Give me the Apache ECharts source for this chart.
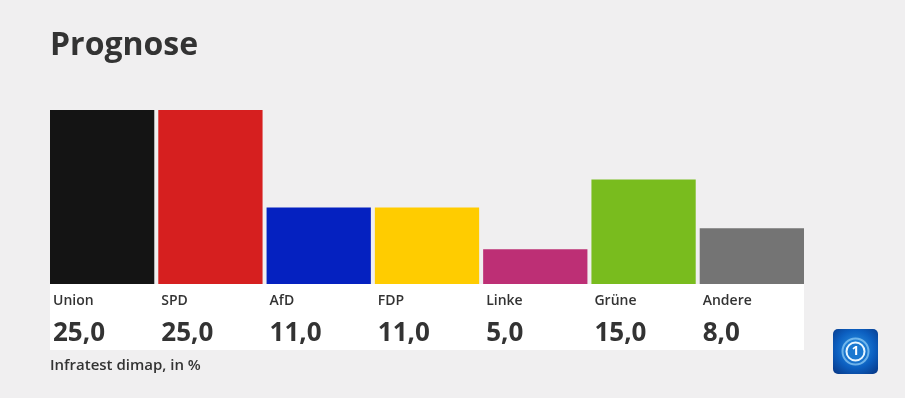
<!DOCTYPE html>
<html>
<head>
<meta charset="utf-8">
<script src="https://cdn.jsdelivr.net/npm/echarts@6/dist/echarts.min.js"></script>
<style>
  html, body { margin: 0; padding: 0; background: #f0eff0; }
  #chart { width: 905px; height: 398px; }
</style>
</head>
<body>
<div id="chart"></div>
<script>
const parties = ["Union", "SPD", "AfD", "FDP", "Linke", "Grüne", "Andere"];
const values = [25.0, 25.0, 11.0, 11.0, 5.0, 15.0, 8.0];
const colors = ["#141414", "#d61f1f", "#0521c0", "#ffcc00", "#bd2f75", "#79bc1e", "#747474"];

const font = "'Open Sans', 'Noto Sans', sans-serif";
const fmt = v => v.toFixed(1).replace(".", ",");

const chart = echarts.init(document.getElementById("chart"), null, { renderer: "canvas" });
chart.setOption({
  backgroundColor: "#f0eff0",
  animation: false,
  title: {
    text: "Prognose",
    left: 45,
    top: 25,
    textStyle: { color: "#333", fontFamily: font, fontSize: 32, fontWeight: "bold" },
  },
  grid: { left: 48, top: 110, width: 758, bottom: 114 },
  xAxis: {
    type: "category",
    data: parties,
    axisLine: { show: false },
    axisTick: { show: false },
    axisLabel: { show: false },
  },
  yAxis: {
    type: "value",
    min: 0,
    max: 25,
    show: false,
    splitLine: { show: false },
  },
  graphic: [
    {
      type: "rect",
      z: -10,
      shape: { x: 50, y: 284, width: 754, height: 66 },
      style: { fill: "#ffffff" },
    },
    {
      type: "text",
      left: 50,
      top: 358,
      style: {
        text: "Infratest dimap, in %",
        fill: "#333",
        font: "600 15px " + font,
      },
    },
    {
      type: "group",
      left: 833,
      top: 329,
      children: [
        {
          type: "rect",
          shape: { x: 0, y: 0, width: 45, height: 45, r: 5 },
          style: {
            fill: new echarts.graphic.RadialGradient(0.5, 0.45, 0.7, [
              { offset: 0, color: "#2f9be8" },
              { offset: 0.6, color: "#0c5fc0" },
              { offset: 1, color: "#083a8a" },
            ]),
          },
        },
        {
          type: "circle",
          shape: { cx: 22.5, cy: 22.5, r: 13 },
          style: { fill: "none", stroke: "rgba(170,225,255,0.6)", lineWidth: 2 },
        },
        {
          type: "circle",
          shape: { cx: 22.5, cy: 22.5, r: 9 },
          style: { fill: "#1a78d0", stroke: "#e8f6ff", lineWidth: 2 },
        },
        {
          type: "text",
          style: {
            x: 22.5, y: 22.5, text: "1", fill: "#ffffff",
            font: "bold 13px " + font, align: "center", verticalAlign: "middle",
          },
        },
      ],
    },
  ],
  series: [
    {
      type: "bar",
      barCategoryGap: "3.7%",
      data: values.map((v, i) => ({ value: v, itemStyle: { color: colors[i] } })),
      label: {
        show: true,
        position: ["0%", "100%"],
        offset: [3, 7],
        align: "left",
        verticalAlign: "top",
        formatter: p => "{n|" + parties[p.dataIndex] + "}\n{v|" + fmt(values[p.dataIndex]) + "}",
        rich: {
          n: { color: "#333", fontFamily: font, fontSize: 14, fontWeight: 600, lineHeight: 20 },
          v: { color: "#333", fontFamily: font, fontSize: 26, fontWeight: "bold", lineHeight: 46 },
        },
      },
    },
  ],
});
</script>
</body>
</html>
